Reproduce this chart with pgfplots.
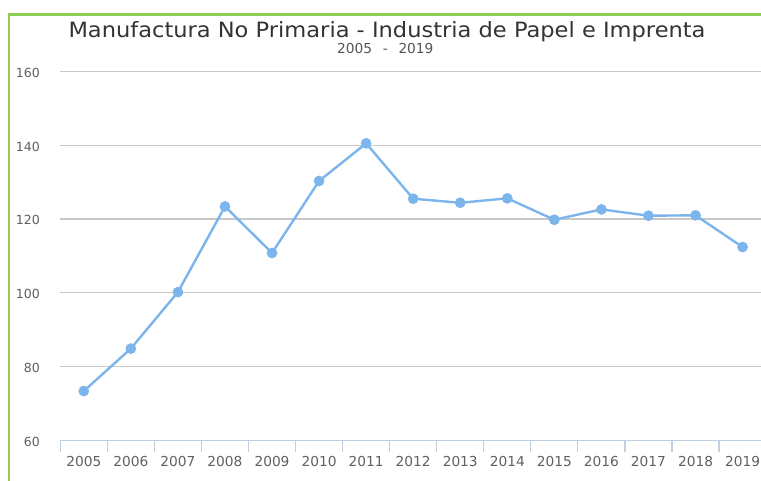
\documentclass[border=0pt]{standalone}
\usepackage{pgfplots}
\pgfplotsset{compat=1.18}
\usepackage{fontspec}
\setmainfont{DejaVu Sans}
\newfontfamily\titlefont[FakeStretch=1.07]{DejaVu Sans}

\definecolor{hcblue}{HTML}{7CB5EC}
\definecolor{gridgray}{HTML}{C8C8C8}
\definecolor{axisblue}{HTML}{C0D0E0}
\definecolor{labelgray}{HTML}{606060}
\definecolor{titlegray}{HTML}{333333}
\definecolor{subgray}{HTML}{555555}
\definecolor{framegreen}{HTML}{8DCF55}

\begin{document}
\begin{tikzpicture}
\useasboundingbox (0,0) rectangle (570.75pt,360pt);

% frame visible on the left and top
\draw[framegreen, line width=1.9pt] (6.75pt,-2pt) -- (6.75pt,349.3pt) -- (575pt,349.3pt);

\begin{axis}[
    at={(45.2pt,29.6pt)}, anchor=south west,
    scale only axis,
    width=525.5pt, height=276.9pt,
    xmin=-0.5, xmax=14.39,
    ymin=60, ymax=160,
    ytick={60,80,...,160},
    xtick={0,...,14},
    xticklabels={2005,2006,2007,2008,2009,2010,2011,2012,2013,2014,2015,2016,2017,2018,2019},
    minor xtick={-0.5,0.5,...,13.5},
    major tick length=0pt,
    minor tick length=8.25pt,
    tick align=outside,
    minor tick style={axisblue, line width=0.9pt},
    ymajorgrids=true,
    grid style={gridgray, line width=0.9pt},
    axis x line*=bottom,
    axis y line*=left,
    separate axis lines,
    x axis line style={axisblue, line width=0.9pt, -},
    y axis line style={draw=none},
    /pgf/number format/assume math mode=true,
    yticklabel style={font=\fontsize{9.4pt}{10pt}\selectfont, text=labelgray, anchor=east, inner sep=0pt, xshift=-15.2pt, yshift=-1pt},
    xticklabel style={font=\fontsize{10.3pt}{11pt}\selectfont, text=labelgray, anchor=north, inner sep=0pt, yshift=-11.4pt},
]
\addplot[hcblue, line width=1.8pt, mark=*, mark size=3.8pt, mark options={solid, fill=hcblue, draw=hcblue, line width=0.4pt}]
coordinates {
(0,73.4) (1,84.9) (2,100.2) (3,123.4) (4,110.8) (5,130.3) (6,140.5) (7,125.5)
(8,124.4) (9,125.6) (10,119.8) (11,122.6) (12,120.9) (13,121.0) (14,112.4)
};
\end{axis}

\node[anchor=base, inner sep=0pt, text=titlegray, font=\titlefont\fontsize{15.8pt}{18pt}\selectfont]
  at (290.25pt,331.7pt) {Manufactura No Primaria - Industria de Papel e Imprenta};
\node[anchor=base, inner sep=0pt, text=subgray, font=\fontsize{10.3pt}{12pt}\selectfont]
  at (289pt,320.2pt) {2005\hspace{0.78em}-\hspace{0.78em}2019};
\end{tikzpicture}
\end{document}
